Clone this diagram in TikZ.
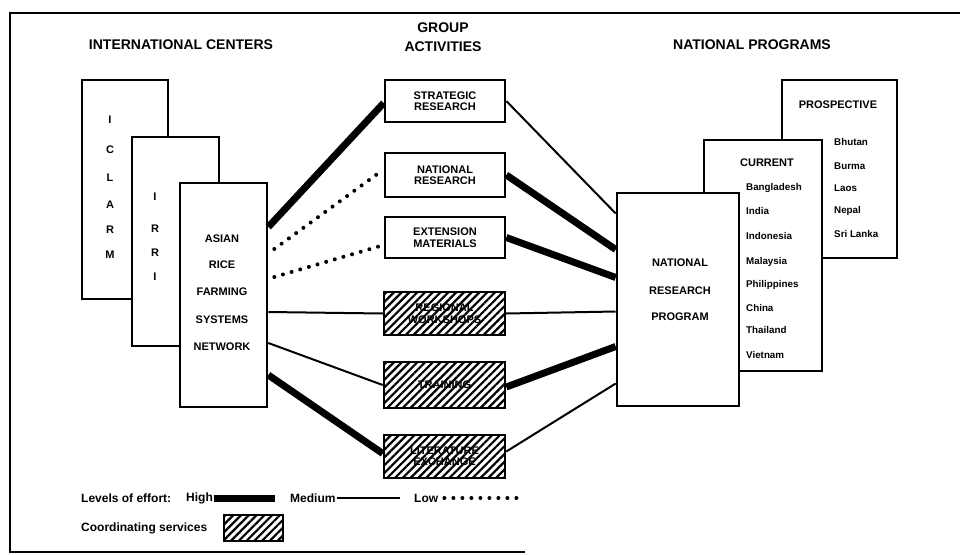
\documentclass[tikz,border=0pt]{standalone}
\usepackage{fontspec}
\setmainfont{Liberation Sans}
\usetikzlibrary{patterns.meta}

\tikzset{
    box/.style = {draw, line width=2.6pt, fill=white, inner sep=0pt},
    hatchbox/.style = {draw, line width=2.6pt, inner sep=0pt,
        pattern={Lines[angle=45, distance=5.5pt, line width=2.2pt]}},
    high/.style = {line width=7pt},
    medium/.style = {line width=2pt},
    low/.style = {line width=4pt, line cap=round, dash pattern=on 0pt off 9pt},
    head/.style = {font=\fontsize{14}{18.5}\selectfont\bfseries, align=center},
    lbl/.style = {font=\fontsize{11}{11.5}\selectfont\bfseries, align=center},
    small/.style = {font=\fontsize{9.8}{11}\selectfont\bfseries, anchor=west, inner sep=0pt},
    legend/.style = {font=\fontsize{12}{14}\selectfont\bfseries, anchor=west, inner sep=0pt},
}

\begin{document}
\begin{tikzpicture}[x=1pt, y=-1pt]
    \useasboundingbox (0,0) rectangle (960,554);
    % frame
    \draw[line width=1.6pt] (960,13) -- (10,13) -- (10,552) -- (525,552);

    % headings
    \node[head] (intl) at (181,45) {INTERNATIONAL CENTERS};
    \node[head] (group) at (443,37) {GROUP\\ACTIVITIES};
    \node[head] (natl) at (752,45) {NATIONAL PROGRAMS};

    % international centers
    \node[box, minimum width=86pt, minimum height=219pt] (iclarm) at (125,189.5) {};
    \foreach \l/\y [count=\i] in {I/120, C/150, L/178, A/205, R/230, M/255}
        \node[lbl] (iclarm\i) at (110,\y) {\l};
    \node[box, minimum width=87pt, minimum height=209pt] (irri) at (175.5,241.5) {};
    \foreach \l/\y [count=\i] in {I/197, R/229, R/253, I/277}
        \node[lbl] (irri\i) at (155,\y) {\l};
    \node[box, minimum width=87pt, minimum height=224pt] (arfsn) at (223.5,295) {};
    \foreach \t/\y [count=\i] in {ASIAN/239, RICE/265, FARMING/292, SYSTEMS/320, NETWORK/347}
        \node[lbl] (arfsn\i) at (222,\y) {\t};

    % group activities
    \node[box, lbl, minimum width=120pt, minimum height=42pt] (strat) at (445,101) {STRATEGIC\\RESEARCH};
    \node[box, lbl, minimum width=120pt, minimum height=44pt] (natres) at (445,175) {NATIONAL\\RESEARCH};
    \node[box, lbl, minimum width=120pt, minimum height=41pt] (ext) at (445,237.5) {EXTENSION\\MATERIALS};
    \node[hatchbox, lbl, minimum width=121pt, minimum height=43pt] (regional) at (444.5,313.5) {REGIONAL\\WORKSHOPS};
    \node[hatchbox, lbl, minimum width=121pt, minimum height=46pt] (training) at (444.5,385) {TRAINING};
    \node[hatchbox, lbl, minimum width=121pt, minimum height=43pt] (litex) at (444.5,456.5) {LITERATURE\\EXCHANGE};

    % national programs
    \node[box, minimum width=115pt, minimum height=178pt] (prosp) at (839.5,169) {};
    \node[lbl] (prosplbl) at (838,105) {PROSPECTIVE};
    \foreach \t/\y [count=\i] in {Bhutan/142, Burma/166, Laos/188, Nepal/211, Sri Lanka/234}
        \node[small] (prosp\i) at (834,\y) {\t};
    \node[box, minimum width=118pt, minimum height=231pt] (curr) at (763,255.5) {};
    \node[lbl] (currlbl) at (767,163) {CURRENT};
    \foreach \t/\y [count=\i] in {Bangladesh/188, India/211, Indonesia/236, Malaysia/262,
        Philippines/285, China/308, Thailand/330, Vietnam/355}
        \node[small] (curr\i) at (746,\y) {\t};
    \node[box, minimum width=122pt, minimum height=213pt] (nrp) at (678,299.5) {};
    \foreach \t/\y [count=\i] in {NATIONAL/263, RESEARCH/291, PROGRAM/317}
        \node[lbl] (nrp\i) at (680,\y) {\t};

    % links: centers to activities
    \draw[high] ([yshift=68pt]arfsn.east) -- ([yshift=-2pt]strat.west);
    \draw[low] ([xshift=6pt, yshift=46pt]arfsn.east) -- ([xshift=-5pt, yshift=2pt]natres.west);
    \draw[low] ([xshift=6pt, yshift=18pt]arfsn.east) -- ([xshift=-5pt, yshift=-9pt]ext.west);
    \draw[medium] ([yshift=-17pt]arfsn.east) -- (regional.west);
    \draw[medium] ([yshift=-48pt]arfsn.east) -- (training.west);
    \draw[high] ([yshift=-80pt]arfsn.east) -- ([yshift=3pt]litex.west);

    % links: activities to national programs
    \draw[medium] (strat.east) -- ([yshift=86pt]nrp.west);
    \draw[high] (natres.east) -- ([yshift=50pt]nrp.west);
    \draw[high] (ext.east) -- ([yshift=22pt]nrp.west);
    \draw[medium] (regional.east) -- ([yshift=-12pt]nrp.west);
    \draw[high] ([yshift=-2pt]training.east) -- ([yshift=-47pt]nrp.west);
    \draw[medium] ([yshift=5pt]litex.east) -- ([yshift=-84pt]nrp.west);

    % legend
    \node[legend] (effort) at (81,498) {Levels of effort:};
    \node[legend] (highlbl) at (186,498) {High};
    \coordinate (highend) at (275,498);
    \draw[high] ([xshift=1pt]highlbl.east) -- (highend);
    \node[legend] (medlbl) at (290,498) {Medium};
    \coordinate (medend) at (400,498);
    \draw[medium] ([xshift=1pt]medlbl.east) -- (medend);
    \node[legend] (lowlbl) at (414,498) {Low};
    \coordinate (lowend) at (517,498);
    \draw[low] ([xshift=6pt]lowlbl.east) -- (lowend);
    \node[legend] (coord) at (81,528) {Coordinating services};
    \node[hatchbox, minimum width=59pt, minimum height=26pt] (coordbox) at (253.5,528) {};
\end{tikzpicture}
\end{document}
